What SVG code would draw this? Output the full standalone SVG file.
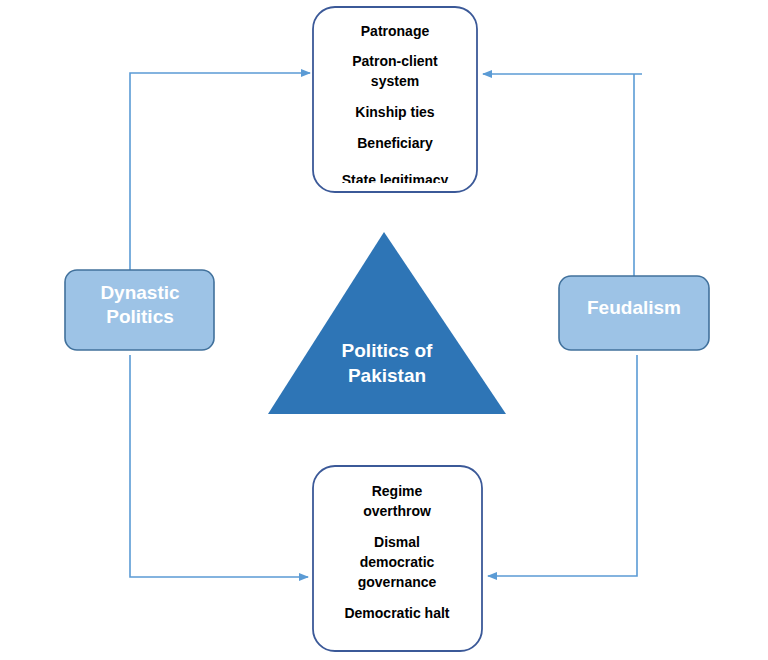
<svg xmlns="http://www.w3.org/2000/svg" width="768" height="660" viewBox="0 0 768 660">
<defs>
<marker id="ah" markerWidth="10" markerHeight="8" refX="9" refY="4" orient="auto" markerUnits="userSpaceOnUse"><path d="M0,0 L10,4 L0,8 Z" fill="#5b9bd5"/></marker>
<clipPath id="cl"><rect x="313" y="7" width="164" height="176"/></clipPath>
</defs>
<style>
.c{fill:none;stroke:#5b9bd5;stroke-width:1.6}
.w{fill:#fff;stroke:#3b5998;stroke-width:1.8}
.s{fill:#9dc3e6;stroke:#41719c;stroke-width:1.6}
.t{font-family:"Liberation Sans",Arial,sans-serif;font-weight:bold;font-size:14px;fill:#000;text-anchor:middle}
.h{font-family:"Liberation Sans",Arial,sans-serif;font-weight:bold;font-size:19px;fill:#fff;text-anchor:middle}
</style>
<rect width="768" height="660" fill="#fff"/>
<g id="connectors">
<path class="c" d="M130,270 V73 H310" marker-end="url(#ah)"/>
<path class="c" d="M130,355 V577 H308" marker-end="url(#ah)"/>
<path class="c" d="M642,74 H483" marker-end="url(#ah)"/>
<path class="c" d="M634,74 V276"/>
<path class="c" d="M637,355 V576 H488" marker-end="url(#ah)"/>
</g>
<g id="top">
<rect class="w" x="313" y="7" width="164" height="185" rx="22"/>
<g clip-path="url(#cl)">
<text class="t" x="395" y="36">Patronage</text>
<text class="t" x="395" y="66">Patron-client</text>
<text class="t" x="395" y="86">system</text>
<text class="t" x="395" y="117">Kinship ties</text>
<text class="t" x="395" y="148">Beneficiary</text>
<text class="t" x="395" y="185">State legitimacy</text>
</g>
</g>
<g id="bottom">
<rect class="w" x="313" y="466" width="169" height="185" rx="22"/>
<text class="t" x="397" y="496">Regime</text>
<text class="t" x="397" y="516">overthrow</text>
<text class="t" x="397" y="547">Dismal</text>
<text class="t" x="397" y="567">democratic</text>
<text class="t" x="397" y="587">governance</text>
<text class="t" x="397" y="618">Democratic halt</text>
</g>
<g id="dynastic">
<rect class="s" x="65" y="270" width="149" height="80" rx="12"/>
<text class="h" x="140" y="299">Dynastic</text>
<text class="h" x="140" y="323">Politics</text>
</g>
<g id="feudalism">
<rect class="s" x="559" y="276" width="150" height="74" rx="12"/>
<text class="h" x="634" y="314">Feudalism</text>
</g>
<g id="center">
<polygon points="384,232 506,414 268,414" fill="#2e75b6"/>
<text class="h" x="387" y="357" font-size="18">Politics of</text>
<text class="h" x="387" y="382" font-size="18">Pakistan</text>
</g>
</svg>
